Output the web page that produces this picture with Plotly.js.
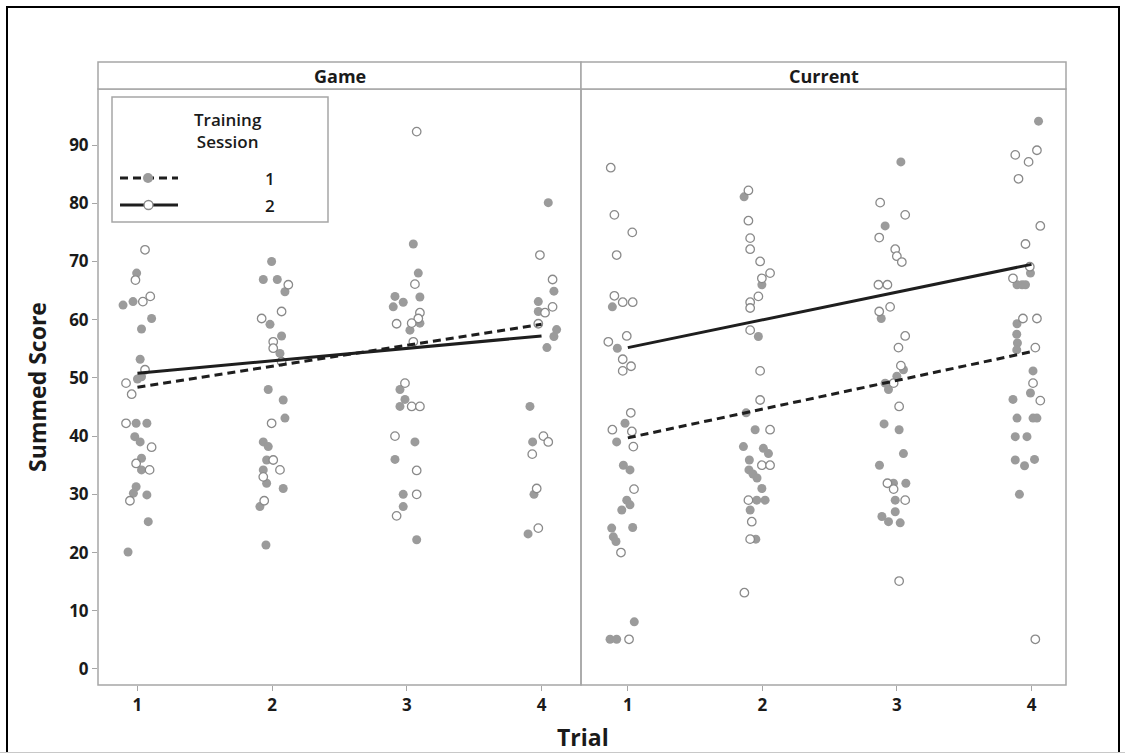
<!DOCTYPE html>
<html>
<head>
<meta charset="utf-8">
<script src="https://cdn.plot.ly/plotly-3.0.1.min.js"></script>
<style>
  html, body { margin: 0; padding: 0; background: #fff; }
  #wrap { position: relative; width: 1125px; height: 753px; overflow: hidden; }
  #chart { position: absolute; left: 0; top: 0; width: 1125px; height: 753px; }
  #frame { position: absolute; left: 6px; top: 6px; width: 1110px; height: 760px;
           border: 2px solid #000; pointer-events: none; }
  #base { position: absolute; left: 0; top: 752px; width: 1125px; height: 1px; background: #c8c8c8; }
</style>
</head>
<body>
<div id="wrap">
  <div id="chart"></div>
  <div id="frame"></div>
  <div id="base"></div>
</div>
<script>
// Panel names and trial ticks
const panels = ["Game", "Current"];
const trials = [1, 2, 3, 4];
const sessions = ["1", "2"];

// Game panel, training session 1 (trial position with jitter, summed score)
const gameS1Trial = [0.994,0.893,0.967,1.105,1.03,1.02,1.03,1.0,0.99,1.07,0.98,1.02,1.03,1.03,0.99,0.97,1.07,1.08,0.93,
  1.996,1.934,2.038,2.095,1.984,2.07,2.058,1.971,2.082,2.095,1.934,1.971,1.959,1.934,1.959,2.082,1.909,1.954,
  3.048,3.085,3.097,2.912,2.973,2.899,3.097,3.023,2.949,2.986,2.949,3.06,2.912,2.973,2.973,3.073,
  4.05,4.092,3.976,3.976,4.112,4.092,4.04,3.914,3.934,3.944,3.9];
const gameS1Score = [68,62.5,63.1,60.2,58.4,53.2,50.2,49.8,42.2,42.2,39.9,39.0,36.2,34.2,31.3,30.2,29.9,25.3,20.1,
  70.0,66.9,66.9,64.8,59.2,57.2,54.2,48.0,46.2,43.1,39.0,38.2,35.9,34.2,31.9,31.0,27.9,21.3,
  73.0,68.0,63.9,64.0,63.0,62.2,59.4,58.2,48.0,46.3,45.1,39.0,36.0,30.0,27.9,22.2,
  80.1,64.9,63.1,61.4,58.3,57.1,55.2,45.1,39.0,30.0,23.2];

// Game panel, training session 2
const gameS2Trial = [1.056,0.985,1.04,1.095,1.056,0.915,0.957,0.915,1.105,0.99,1.09,0.944,
  2.12,1.922,2.07,2.008,2.008,2.07,1.996,2.008,2.058,1.934,1.941,
  3.073,3.06,3.097,3.085,2.924,3.036,3.048,2.986,3.036,3.097,2.912,3.073,3.073,2.924,
  3.988,4.082,4.082,4.026,3.976,4.014,4.05,3.931,3.964,3.976];
const gameS2Score = [72,66.8,63.1,64.0,51.4,49.1,47.2,42.2,38.1,35.3,34.2,28.9,
  66.0,60.2,61.4,56.2,55.1,52.8,42.2,35.9,34.2,33.0,28.9,
  92.3,66.1,61.2,60.2,59.3,59.4,56.2,49.1,45.1,45.1,40.0,34.1,30.0,26.3,
  71.1,66.9,62.2,61.2,59.3,40.0,39.0,36.9,31.0,24.2];

// Current panel, training session 1
const currentS1Trial = [0.885,0.922,0.979,0.917,0.967,1.016,0.992,1.016,0.955,0.88,1.036,0.892,0.912,1.048,0.868,0.917,
  1.864,1.996,1.97,1.879,1.946,1.859,2.007,2.045,1.903,1.9,1.93,1.96,1.996,1.958,2.02,1.909,1.951,
  3.029,2.912,2.883,3.048,2.999,2.912,2.937,2.904,3.016,3.048,2.87,2.974,3.066,2.987,2.888,2.937,2.987,3.024,
  4.052,3.992,3.892,3.93,3.955,3.892,3.89,3.895,3.89,4.011,3.992,3.862,3.892,4.011,4.04,3.879,3.966,3.879,3.948,4.022,3.91];
const currentS1Score = [62.2,55.1,42.2,39.0,35.0,34.2,29.0,28.2,27.3,24.2,24.3,22.7,21.9,8.1,5.1,5.1,
  81.1,66.0,57.1,44.0,41.1,38.2,37.9,37.0,35.9,34.2,33.5,32.8,31.0,29.0,29.0,27.3,22.3,
  87.1,76.1,60.2,51.4,50.3,49.1,48.0,42.1,41.1,37.0,35.0,31.9,31.9,29.0,26.2,25.3,27.0,25.1,
  94.1,68.0,66.0,66.0,66.0,59.3,57.5,56.0,54.8,51.2,47.4,46.3,43.1,43.1,43.1,39.9,39.9,35.9,34.9,36.0,30.0];

// Current panel, training session 2
const currentS2Trial = [0.873,0.9,1.033,0.917,0.9,0.962,1.036,0.992,0.855,0.962,1.024,0.962,1.022,0.885,1.03,1.041,1.046,0.949,1.009,
  1.896,1.896,1.909,1.909,1.983,2.057,1.996,1.97,1.909,1.909,1.909,1.983,1.983,2.057,1.996,2.057,1.896,1.921,1.909,1.866,
  2.875,3.061,2.868,2.987,2.999,3.036,2.862,2.929,2.949,2.868,3.061,3.011,3.029,2.975,3.016,2.929,2.975,3.061,3.016,
  4.04,3.879,3.978,3.903,4.065,3.955,3.987,3.862,3.936,4.04,4.028,4.011,4.065,4.028];
const currentS2Score = [86.1,78.0,75.0,71.1,64.1,63.0,63.0,57.2,56.2,53.2,52.0,51.2,44.0,41.1,40.8,38.2,30.9,20.0,5.1,
  82.2,77.0,74.0,72.1,70.0,68.0,67.1,64.0,63.0,62.0,58.2,51.2,46.2,41.1,35.0,35.0,29.0,25.3,22.3,13.1,
  80.1,78.0,74.1,72.1,70.9,69.9,66.0,66.0,62.2,61.4,57.2,55.2,52.1,49.1,45.1,31.9,30.9,29.0,15.1,
  89.1,88.3,87.1,84.2,76.1,73.0,69.1,67.1,60.2,60.2,55.2,49.1,46.1,5.1];

// Fitted regression lines, evaluated at trial 1 and trial 4
const fitTrials = [1, 4];
const gameFitS1 = [48.4, 59.2];
const gameFitS2 = [50.8, 57.2];
const currentFitS1 = [39.7, 54.5];
const currentFitS2 = [55.2, 69.5];

// Y ticks
const yTicks = [0, 10, 20, 30, 40, 50, 60, 70, 80, 90];

const FONT = "Open Sans, Noto Sans, sans-serif";
const TXT = "#1a1a1a";
const FILL_GRAY = "#9b9b9b";
const OPEN_GRAY = "#8a8a8a";
const FRAME = "#a6a6a6";
const LINE = "#1e1e1e";

function filledPts(x, y, xa) {
  return { type: "scatter", mode: "markers", x: x, y: y, xaxis: xa, yaxis: "y",
    marker: { symbol: "circle", size: 9, color: FILL_GRAY, line: { width: 0 } },
    showlegend: false, hoverinfo: "x+y" };
}
function openPts(x, y, xa) {
  return { type: "scatter", mode: "markers", x: x, y: y, xaxis: xa, yaxis: "y",
    marker: { symbol: "circle", size: 8.5, color: "#ffffff", line: { width: 1.3, color: OPEN_GRAY } },
    showlegend: false, hoverinfo: "x+y" };
}
function fitLine(y, xa, dashed) {
  return { type: "scatter", mode: "lines", x: fitTrials, y: y, xaxis: xa, yaxis: "y",
    line: { color: LINE, width: 3, dash: dashed ? "8px,5px" : "solid" },
    showlegend: false, hoverinfo: "skip" };
}

const data = [
  filledPts(gameS1Trial, gameS1Score, "x"),
  openPts(gameS2Trial, gameS2Score, "x"),
  filledPts(currentS1Trial, currentS1Score, "x2"),
  openPts(currentS2Trial, currentS2Score, "x2"),
  fitLine(gameFitS1, "x", true),
  fitLine(gameFitS2, "x", false),
  fitLine(currentFitS1, "x2", true),
  fitLine(currentFitS2, "x2", false)
];

// Plot area geometry in pixels (used to place panel frames and the key)
const W = 1125, H = 753;
const L = 98, R = 1066, T = 89, B = 685;
const pw = R - L, ph = B - T;
const px = v => (v - L) / pw;
const py = v => (B - v) / ph;
const split = px(581);
const stripTop = py(62);

const tickFont = { family: FONT, size: 17, color: TXT, weight: 700 };

const xCommon = {
  tickvals: trials, ticktext: trials.map(String),
  ticks: "outside", ticklen: 5, tickwidth: 1, tickcolor: FRAME,
  showgrid: false, zeroline: false, showline: false,
  tickfont: tickFont, fixedrange: true
};

const shapes = [
  // panel frames
  { type: "rect", xref: "paper", yref: "paper", x0: 0, x1: split, y0: 0, y1: 1, line: { color: FRAME, width: 1.5 } },
  { type: "rect", xref: "paper", yref: "paper", x0: split, x1: 1, y0: 0, y1: 1, line: { color: FRAME, width: 1.5 } },
  // header strips
  { type: "rect", xref: "paper", yref: "paper", x0: 0, x1: split, y0: 1, y1: stripTop, line: { color: FRAME, width: 1.5 }, fillcolor: "#ffffff" },
  { type: "rect", xref: "paper", yref: "paper", x0: split, x1: 1, y0: 1, y1: stripTop, line: { color: FRAME, width: 1.5 }, fillcolor: "#ffffff" },
  // key box
  { type: "rect", xref: "paper", yref: "paper", x0: px(112), x1: px(328), y0: py(222), y1: py(97), line: { color: FRAME, width: 1.5 }, fillcolor: "#ffffff" },
  // key rows
  { type: "line", xref: "paper", yref: "paper", x0: px(120), x1: px(178), y0: py(178), y1: py(178), line: { color: LINE, width: 3, dash: "8px,5px" } },
  { type: "circle", xref: "paper", yref: "paper", x0: px(143), x1: px(153), y0: py(183), y1: py(173), line: { width: 0 }, fillcolor: FILL_GRAY },
  { type: "line", xref: "paper", yref: "paper", x0: px(120), x1: px(178), y0: py(205), y1: py(205), line: { color: LINE, width: 3 } },
  { type: "circle", xref: "paper", yref: "paper", x0: px(144), x1: px(153), y0: py(209.5), y1: py(200.5), line: { color: OPEN_GRAY, width: 1.3 }, fillcolor: "#ffffff" }
];

const annotations = [
  { text: panels[0], xref: "paper", yref: "paper", x: split / 2, y: (1 + stripTop) / 2, showarrow: false,
    xanchor: "center", yanchor: "middle", font: { family: FONT, size: 18, color: TXT, weight: 700 } },
  { text: panels[1], xref: "paper", yref: "paper", x: (split + 1) / 2, y: (1 + stripTop) / 2, showarrow: false,
    xanchor: "center", yanchor: "middle", font: { family: FONT, size: 18, color: TXT, weight: 700 } },
  { text: "Trial", xref: "paper", yref: "paper", x: px(583), y: py(737), showarrow: false,
    xanchor: "center", yanchor: "middle", font: { family: FONT, size: 23, color: TXT, weight: 700 } },
  { text: "Training<br>Session", xref: "paper", yref: "paper", x: px(228), y: py(130), showarrow: false,
    xanchor: "center", yanchor: "middle", align: "center", font: { family: FONT, size: 17, color: TXT, weight: 600 } },
  { text: sessions[0], xref: "paper", yref: "paper", x: px(277), y: py(178), showarrow: false,
    xanchor: "right", yanchor: "middle", font: { family: FONT, size: 17, color: TXT, weight: 600 } },
  { text: sessions[1], xref: "paper", yref: "paper", x: px(277), y: py(205), showarrow: false,
    xanchor: "right", yanchor: "middle", font: { family: FONT, size: 17, color: TXT, weight: 600 } }
];

const layout = {
  width: W, height: H,
  margin: { l: L, r: W - R, t: T, b: H - B, pad: 0 },
  paper_bgcolor: "#ffffff", plot_bgcolor: "#ffffff",
  showlegend: false,
  font: { family: FONT, color: TXT },
  xaxis: Object.assign({}, xCommon, { domain: [0, split], range: [0.707, 4.293], anchor: "y" }),
  xaxis2: Object.assign({}, xCommon, { domain: [split, 1], range: [0.652, 4.256], anchor: "y" }),
  yaxis: {
    range: [-2.75, 99.62], tickvals: yTicks, ticktext: yTicks.map(String),
    ticks: "outside", ticklen: 5, tickwidth: 1, tickcolor: FRAME,
    showgrid: false, zeroline: false, showline: false, fixedrange: true,
    tickfont: tickFont,
    title: { text: "Summed Score", standoff: 16, font: { family: FONT, size: 23, color: TXT, weight: 700 } }
  },
  shapes: shapes,
  annotations: annotations
};

Plotly.newPlot("chart", data, layout, { displayModeBar: false, staticPlot: true });
</script>
</body>
</html>
